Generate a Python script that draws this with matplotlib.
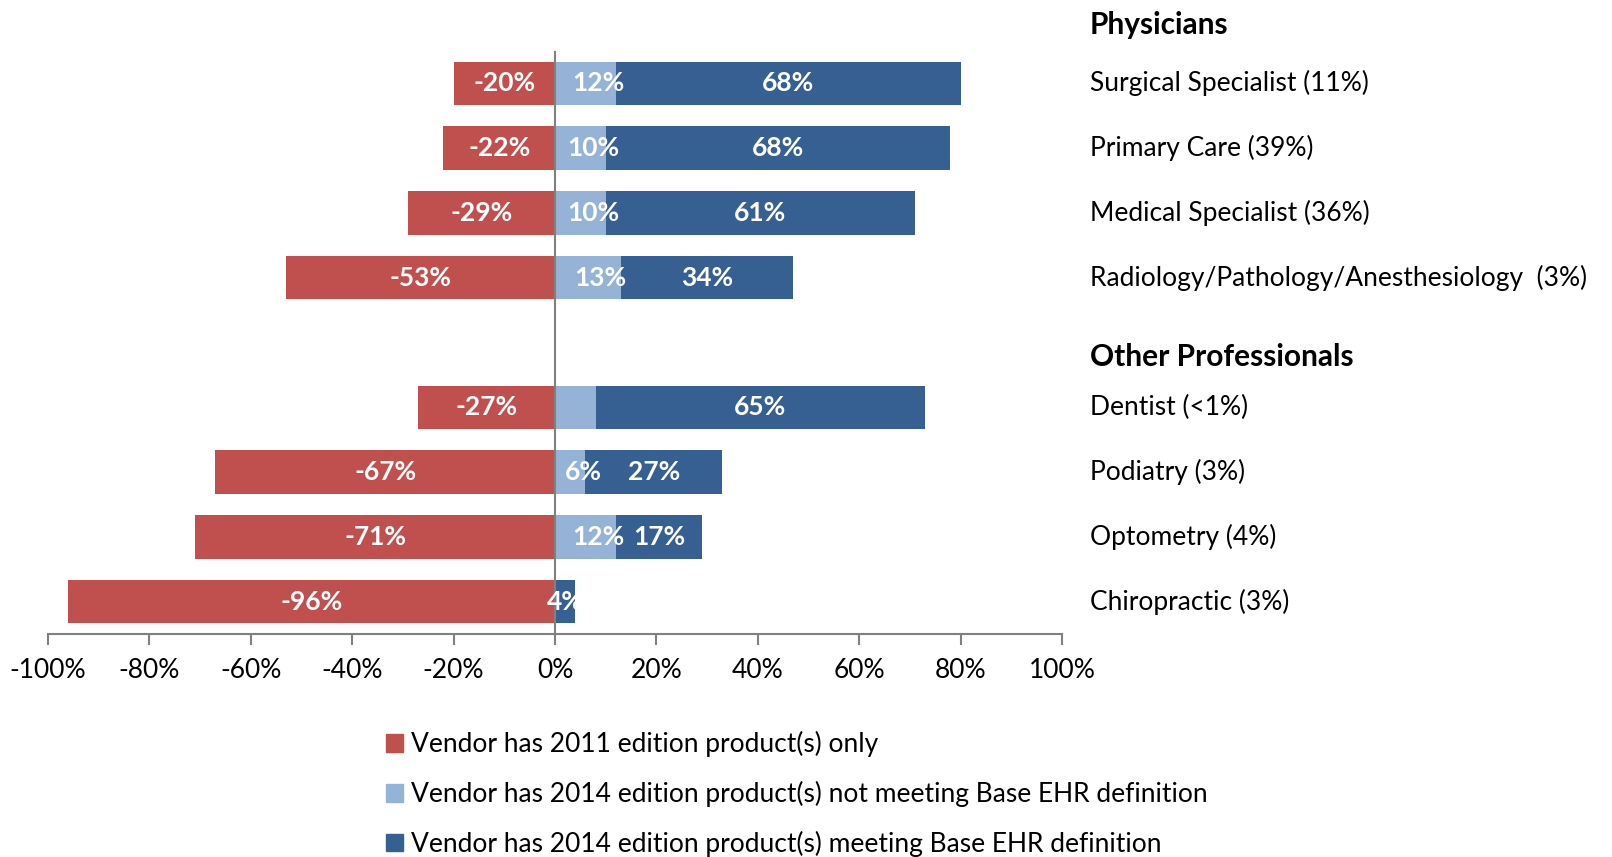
import matplotlib.pyplot as plt
from matplotlib.patches import Patch

plt.rcParams['font.family'] = ['Lato', 'DejaVu Sans']

categories = ['Surgical Specialist (11%)', 'Primary Care (39%)', 'Medical Specialist (36%)',
              'Radiology/Pathology/Anesthesiology  (3%)',
              'Dentist (<1%)', 'Podiatry (3%)', 'Optometry (4%)', 'Chiropractic (3%)']
groups = ['Physicians', 'Other Professionals']
only_2011 = [-20, -22, -29, -53, -27, -67, -71, -96]
not_base = [12, 10, 10, 13, 8, 6, 12, 0]
base_ehr = [68, 68, 61, 34, 65, 27, 17, 4]
not_base_labels = ['12%', '10%', '10%', '13%', '', '6%', '12%', '']
series_names = ['Vendor has 2011 edition product(s) only',
                'Vendor has 2014 edition product(s) not meeting Base EHR definition',
                'Vendor has 2014 edition product(s) meeting Base EHR definition']
x_ticks = [-100, -80, -60, -40, -20, 0, 20, 40, 60, 80, 100]

RED = '#C0504D'
LIGHT = '#95B3D7'
DARK = '#376092'

rows = [0, 1, 2, 3, 5, 6, 7, 8]

fig = plt.figure(figsize=(16.12, 8.57), dpi=100)
ax = fig.add_axes([48 / 1612, 1 - 634 / 857, (1062 - 48) / 1612, (634 - 51) / 857])

h = 0.67
ax.barh(rows, only_2011, height=h, color=RED)
ax.barh(rows, not_base, height=h, color=LIGHT)
ax.barh(rows, base_ehr, left=not_base, height=h, color=DARK)

fs = 19
for y, r, lb, nb, d in zip(rows, only_2011, not_base_labels, not_base, base_ehr):
    ax.text(r / 2, y, f'{r}%', ha='center', va='center', color='white',
            fontsize=fs, fontweight='bold')
    if lb:
        ax.text(nb / 2 + 2.5, y, lb, ha='center', va='center', color='white',
                fontsize=fs, fontweight='bold')
    ax.text(nb + d / 2, y, f'{d}%', ha='center', va='center', color='white',
            fontsize=fs, fontweight='bold')

tr = ax.get_yaxis_transform()
lx = (1090 - 48) / (1062 - 48)
for y, c in zip(rows, categories):
    ax.text(lx, y, c, transform=tr, ha='left', va='center', fontsize=fs)
ax.text(lx, -0.9, groups[0], transform=tr, ha='left', va='center',
        fontsize=21.5, fontweight='bold')
ax.text(lx, 4.22, groups[1], transform=tr, ha='left', va='center',
        fontsize=21.5, fontweight='bold')

ax.set_xlim(-100, 100)
ax.set_ylim(8.5, -0.5)
ax.axvline(0, color='#808080', lw=1.5)
ax.set_xticks(x_ticks)
ax.set_xticklabels([f'{t}%' for t in x_ticks], fontsize=fs)
ax.set_yticks([])
for s in ['left', 'right', 'top']:
    ax.spines[s].set_visible(False)
ax.spines['bottom'].set_color('#808080')
ax.spines['bottom'].set_linewidth(1.5)
ax.tick_params(axis='x', direction='out', length=8, width=1.5, color='#808080', pad=9)

handles = [Patch(color=c) for c in [RED, LIGHT, DARK]]
fig.legend(handles, series_names, loc='upper left', bbox_to_anchor=(386 / 1612, 1 - 731 / 857),
           frameon=False, fontsize=fs, handlelength=0.65, handleheight=0.65,
           handletextpad=0.3, labelspacing=0.9, borderaxespad=0, borderpad=0)

fig.savefig('out.png', dpi=100)
